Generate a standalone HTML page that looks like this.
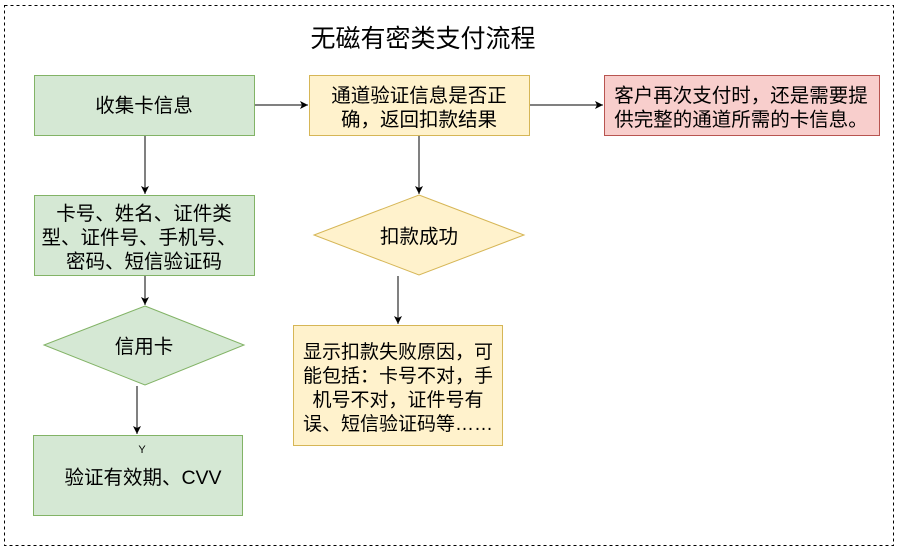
<!DOCTYPE html>
<html><head><meta charset="utf-8"><style>
body{margin:0;width:900px;height:549px;background:#fff;overflow:hidden;font-family:"Liberation Sans","Noto Sans CJK SC",sans-serif;}
</style></head><body>
<svg width="900" height="549" xmlns="http://www.w3.org/2000/svg" font-family="Liberation Sans, Noto Sans CJK SC, sans-serif">
<defs><marker id="a" markerWidth="10" markerHeight="10" refX="8" refY="5" orient="auto" markerUnits="userSpaceOnUse"><path d="M0,1 L8,5 L0,9 L2,5 z" fill="#000"/></marker></defs>
<rect x="4.5" y="5.5" width="889" height="540" fill="none" stroke="#000" stroke-dasharray="3,3"/>
<text x="423" y="47" font-size="25" text-anchor="middle">无磁有密类支付流程</text>
<g stroke="#82b366" fill="#d5e8d4">
<rect x="34.5" y="75.5" width="220" height="60"/>
<rect x="34.5" y="195.5" width="220" height="80"/>
<polygon points="145,306 244,345 145,385 44,345"/>
<rect x="33.5" y="435.5" width="209" height="80"/>
</g>
<g stroke="#d6b656" fill="#fff2cc">
<rect x="309.5" y="75.5" width="220" height="60"/>
<polygon points="419,195 524,235 419,275 314,235"/>
<rect x="293.5" y="325.5" width="209" height="120"/>
</g>
<rect x="604.5" y="75.5" width="275" height="60" stroke="#b85450" fill="#f8cecc"/>
<g stroke="#000" fill="none" marker-end="url(#a)">
<line x1="255" y1="105" x2="308" y2="105"/>
<line x1="530" y1="105" x2="603" y2="105"/>
<line x1="145" y1="136" x2="145" y2="194"/>
<line x1="145" y1="276" x2="145" y2="305"/>
<line x1="137" y1="386" x2="137" y2="434"/>
<line x1="419" y1="136" x2="419" y2="194"/>
<line x1="398" y1="276" x2="398" y2="324"/>
</g>
<g font-size="19.5" text-anchor="middle" fill="#000">
<text x="144" y="112">收集卡信息</text>
<text x="144" y="220">卡号、姓名、证件类</text>
<text x="139" y="244">型、证件号、手机号、</text>
<text x="144" y="268">密码、短信验证码</text>
<text x="144" y="353">信用卡</text>
<text x="143" y="484">验证有效期、CVV</text>
<text x="419" y="102">通道验证信息是否正</text>
<text x="419" y="126">确，返回扣款结果</text>
<text x="419" y="243">扣款成功</text>
<text x="741" y="102">客户再次支付时，还是需要提</text>
<text x="741" y="126">供完整的通道所需的卡信息。</text>
</g>
<g font-size="19" text-anchor="middle" fill="#000">
<text x="398" y="358">显示扣款失败原因，可</text>
<text x="398" y="382">能包括：卡号不对，手</text>
<text x="398" y="406">机号不对，证件号有</text>
<text x="398" y="430">误、短信验证码等……</text>
</g>
<text x="142" y="453" font-size="11" text-anchor="middle">Y</text>
</svg>
</body></html>
